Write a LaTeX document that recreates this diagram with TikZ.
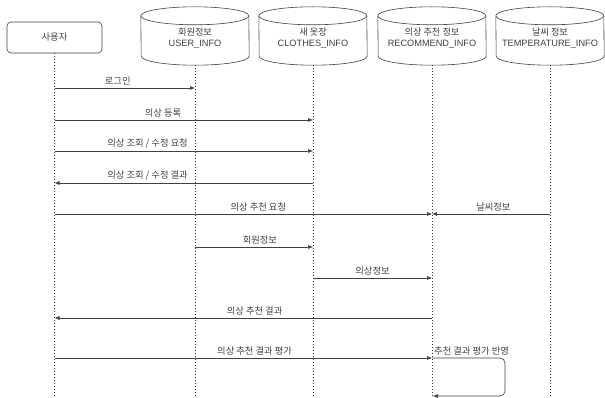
\documentclass[tikz,border=0pt]{standalone}
\usepackage{fontspec}
\setmainfont{Liberation Sans}
\newfontfamily\kr{Noto Sans CJK KR}
\usetikzlibrary{arrows.meta}
\tikzset{
  ln/.style={draw=black!75, line width=0.6pt},
  actor/.style={ln, rounded corners=4pt, minimum width=95pt, minimum height=31pt, inner sep=0pt, font=\kr\fontsize{9.3}{10}\selectfont, text=black!75},
  dbtext/.style={minimum width=108pt, minimum height=58pt, inner sep=0pt, align=center, text=black!75, font=\fontsize{9.2}{10.5}\selectfont},
  life/.style={draw=black!80, line width=0.8pt, dash pattern=on 0.8pt off 2.2pt},
  msg/.style={ln, -{Latex[length=5pt,width=4pt]}},
  mlabel/.style={anchor=south, inner sep=0pt, yshift=2.5pt, text=black!75, font=\kr\fontsize{9.3}{10}\selectfont},
}
\newcommand\dbcyl[1]{%
  \draw[ln, fill=white] ([yshift=-9pt]#1.north west) arc[start angle=180,end angle=0,x radius=54pt,y radius=9pt]
    -- ([yshift=9pt]#1.south east) arc[start angle=0,end angle=-180,x radius=54pt,y radius=9pt] -- cycle;
  \draw[ln] ([yshift=-9pt]#1.north west) arc[start angle=180,end angle=360,x radius=54pt,y radius=9pt];
}
\begin{document}
\begin{tikzpicture}[x=1pt,y=-1pt]
\useasboundingbox (0,0) rectangle (605,398);
% participants
\node[actor] (user) at (54.5,37.5) {사용자};
\node[dbtext] (ui) at (195,36) {};
\node[dbtext] (ci) at (313,36) {};
\node[dbtext] (ri) at (432,36) {};
\node[dbtext] (ti) at (550,36) {};
\dbcyl{ui}\dbcyl{ci}\dbcyl{ri}\dbcyl{ti}
\node[dbtext] at (195,38) {{\kr 회원정보}\\USER\_INFO};
\node[dbtext] at (313,38) {{\kr 새 옷장}\\CLOTHES\_INFO};
\node[dbtext] at (432,38) {{\kr 의상 추천 정보}\\RECOMMEND\_INFO};
\node[dbtext] at (550,38) {{\kr 날씨 정보}\\TEMPERATURE\_INFO};
% lifeline ends
\coordinate (userE) at (54.5,398);
\coordinate (uiE) at (195,398);
\coordinate (ciE) at (313,398);
\coordinate (riE) at (432,398);
\coordinate (tiE) at (550,398);
\draw[life] (user.south) -- (userE);
\draw[life] (ui.south) -- (uiE);
\draw[life] (ci.south) -- (ciE);
\draw[life] (ri.south) -- (riE);
\draw[life] (ti.south) -- (tiE);
% messages
\draw[msg] (user |- 0,88) -- node[mlabel, pos=0.45] {로그인} (ui |- 0,88);
\draw[msg] (user |- 0,120) -- node[mlabel, pos=0.42] {의상 등록} (ci |- 0,120);
\draw[msg] (user |- 0,151) -- node[mlabel, pos=0.36] {의상 조회 / 수정 요청} (ci |- 0,151);
\draw[msg] (ci |- 0,183) -- node[mlabel, pos=0.64] {의상 조회 / 수정 결과} (user |- 0,183);
\draw[msg] (user |- 0,214) -- node[mlabel, pos=0.54] {의상 추천 요청} (ri |- 0,214);
\draw[msg] (ti |- 0,214) -- node[mlabel, pos=0.48] {날씨정보} (ri |- 0,214);
\draw[msg] (ui |- 0,247) -- node[mlabel, pos=0.55] {회원정보} (ci |- 0,247);
\draw[msg] (ci |- 0,278) -- node[mlabel, pos=0.5] {의상정보} (ri |- 0,278);
\draw[msg] (ri |- 0,318) -- node[mlabel, pos=0.47] {의상 추천 결과} (user |- 0,318);
\draw[msg] (user |- 0,358) -- node[mlabel, pos=0.53] {의상 추천 결과 평가} (ri |- 0,358);
% self message
\coordinate (selfA) at (505,358);
\coordinate (selfB) at (505,396);
\draw[msg, rounded corners=5pt] (ri |- 0,358) -- (selfA) -- (selfB) -- ([xshift=1pt]ri |- 0,396);
\node[mlabel, anchor=south west, xshift=2pt] (selfL) at (ri |- 0,358) {추천 결과 평가 반영};
\end{tikzpicture}
\end{document}
